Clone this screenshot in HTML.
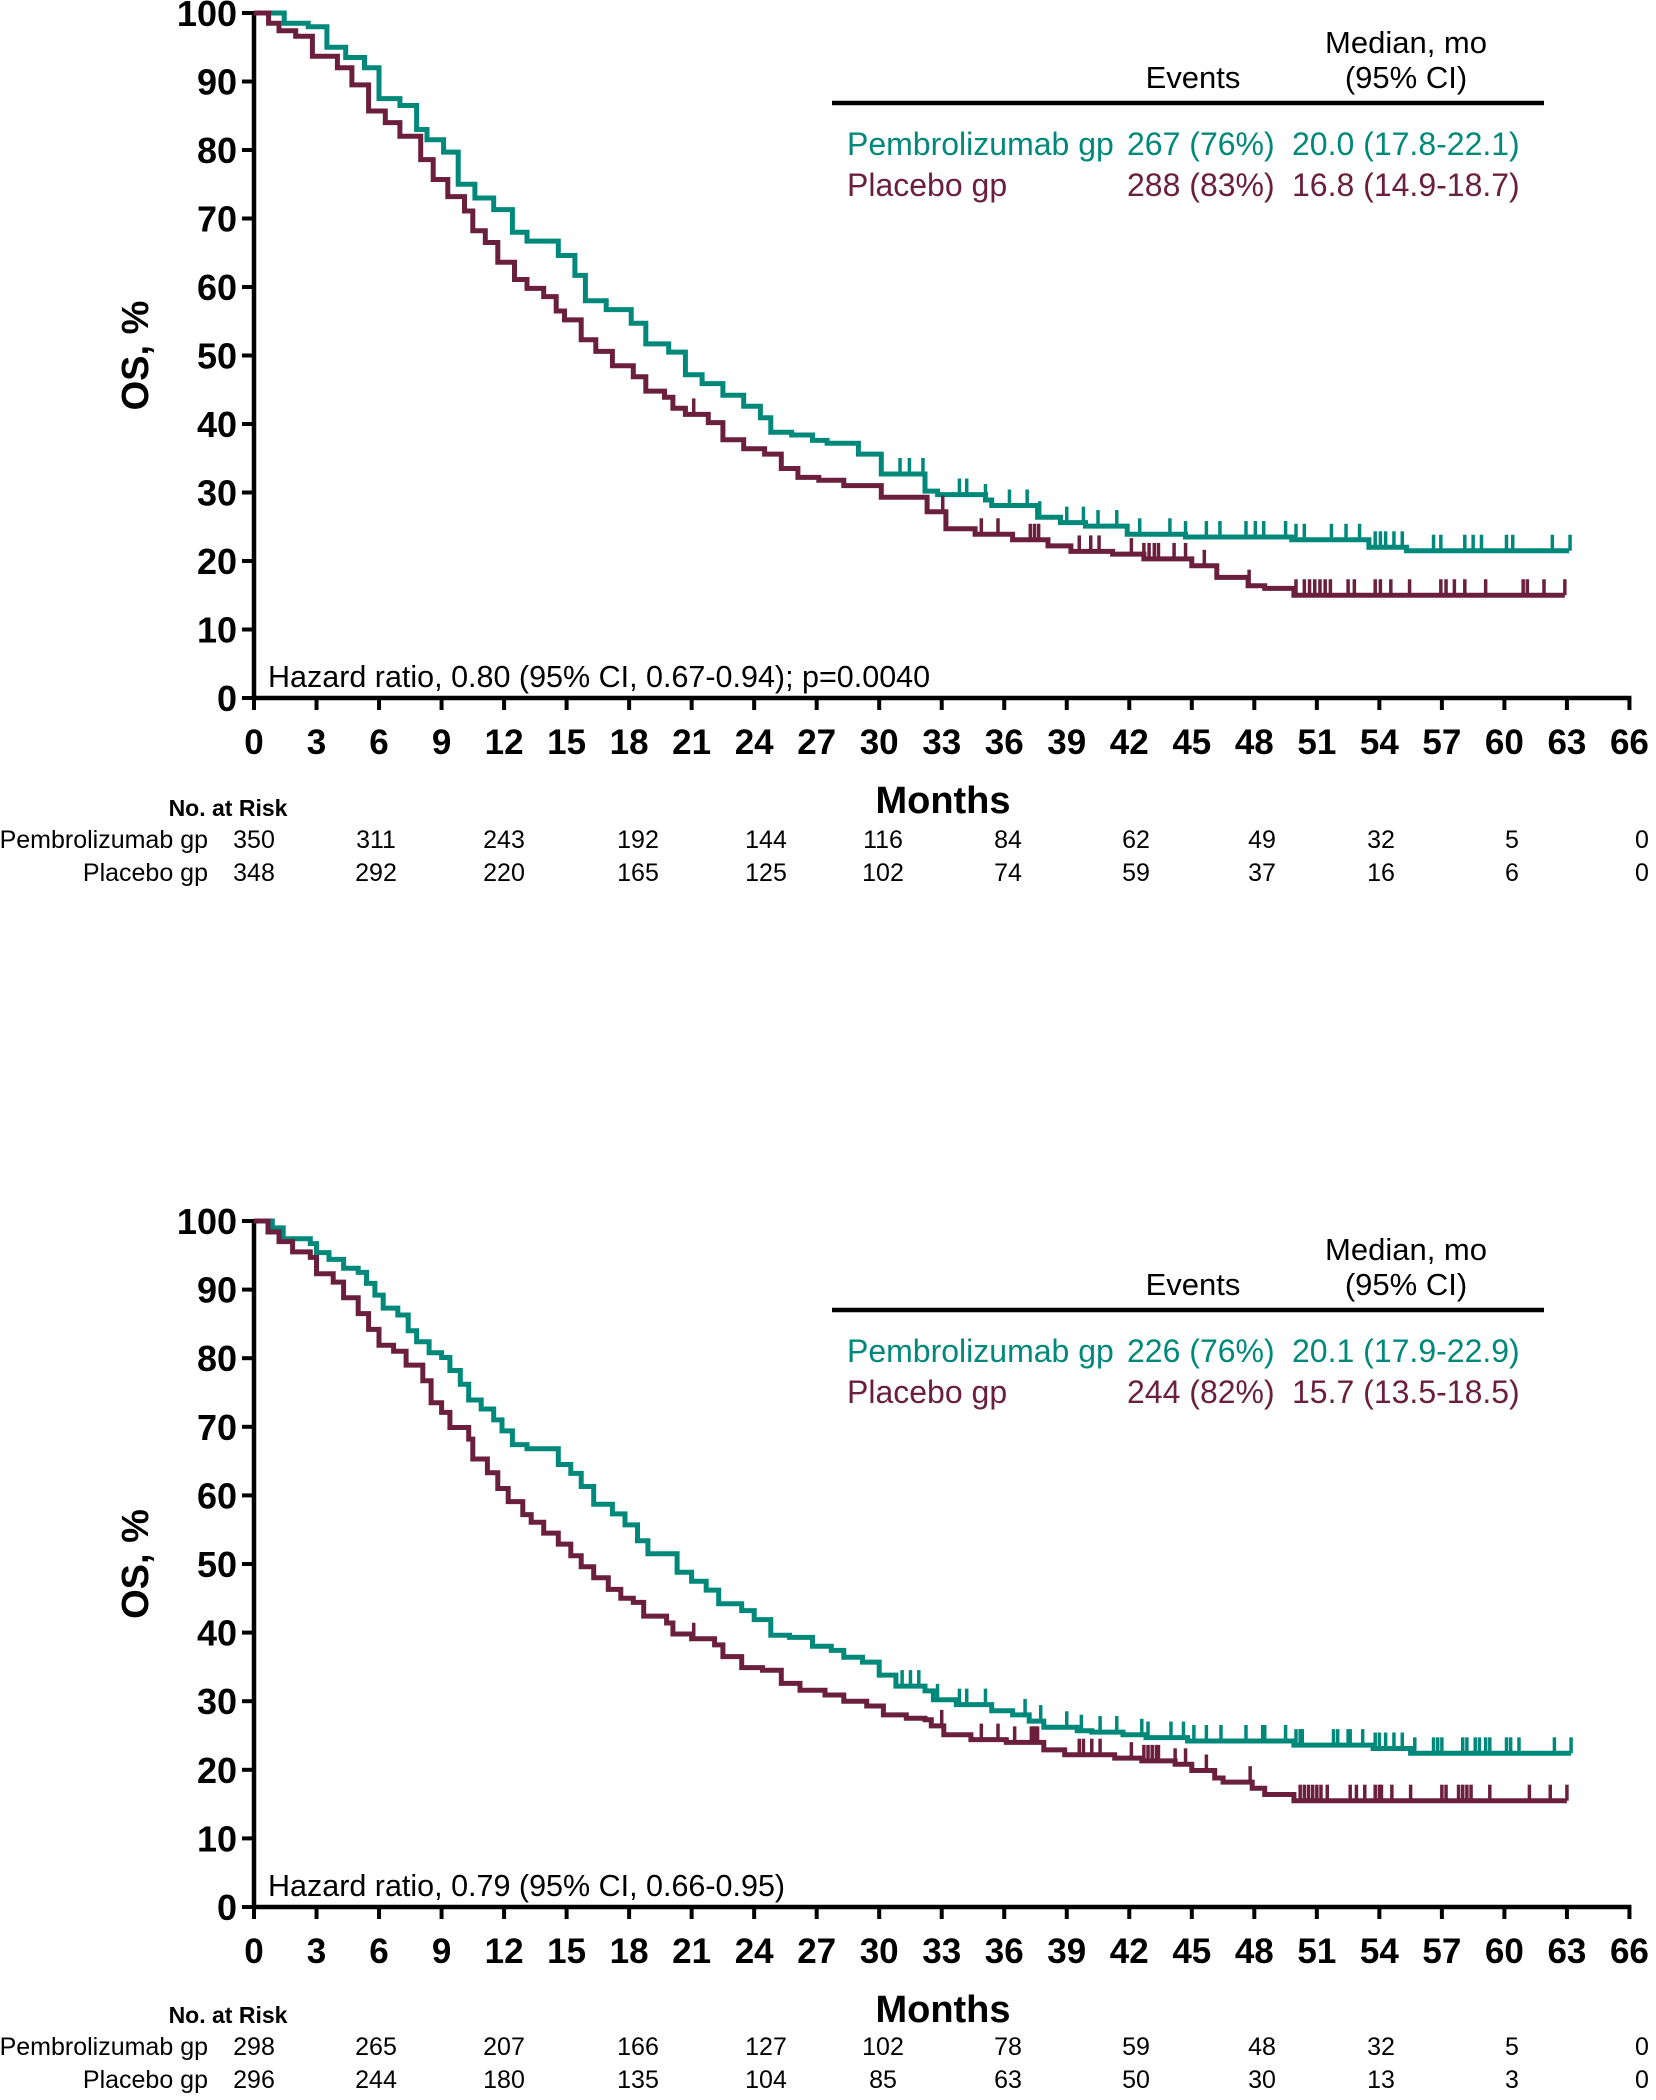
<!DOCTYPE html>
<html><head><meta charset="utf-8">
<style>
html,body{margin:0;padding:0;background:#fff;}
svg{display:block;font-family:"Liberation Sans",Arial,sans-serif;}
</style></head>
<body>
<svg id="chart" width="1656" height="2100" viewBox="0 0 1656 2100" xmlns="http://www.w3.org/2000/svg"></svg>
<script>
// ===== Data (top panel) =====
const xTickLabels = [0,3,6,9,12,15,18,21,24,27,30,33,36,39,42,45,48,51,54,57,60,63,66];
const yTickLabels = [0,10,20,30,40,50,60,70,80,90,100];
const riskTimes = [0,6,12,18,24,30,36,42,48,54,60,66];

const topPembroTimes = [0,1.45,2.6,3.5,4.4,5.3,6,7,7.8,8.3,9.1,9.8,10.6,11.5,12.4,13.1,14.6,15.4,15.9,16.9,18.1,18.8,19.9,20.7,21.5,22.5,23.5,24.3,24.8,25.8,26.8,27.5,29,30.1,32.2,32.8,35.1,35.4,37.6,38.7,39.9,41.9,44.7,49.8,53.5,55.3];
const topPembroSurv = [100,98.5,98,95,93.5,92,87.5,86.5,83,81.5,79.7,75,73,71.3,68,66.7,64.6,61.7,58,56.7,54.7,51.7,50.5,47.2,45.9,44.2,42.6,40.9,38.8,38.4,37.6,37.2,35.6,32.7,30.2,29.7,28.9,28.1,26.4,25.6,25.1,23.9,23.5,23.1,22.0,21.5];
const topPembroEnd = 63.1;
const topPembroCensor = [31.0,31.45,32.1,33.85,34.2,35.1,36.25,37.1,37.7,39.0,39.8,40.5,41.4,42.5,43.95,44.7,45.7,46.35,47.6,48.05,48.45,49.5,50.0,50.4,51.7,52.4,53.05,53.8,54.05,54.3,54.7,55.1,56.6,56.95,58.1,58.5,58.9,60.1,60.4,62.3,63.15];

const topPlaceboTimes = [0,0.7,1.2,2,2.8,4,4.7,5.5,6.3,7,8,8.6,9.3,10.1,10.5,11.1,11.7,12.5,13.1,13.9,14.5,14.9,15.7,16.4,17.2,18.2,18.8,19.7,20.1,20.7,21.8,22.5,23.5,24.5,25.3,26.1,27.1,28.3,30.1,32.3,33.2,34.6,36.4,38.1,39.2,41.2,42.7,45,46.2,47.7,48.5,49.9];
const topPlaceboSurv = [100,98.5,97.4,96.6,93.7,92,89.5,85.7,84,82,78.6,75.7,73.2,71.1,68.2,66.5,63.6,61.1,59.8,58.6,56.5,55.2,52.3,50.6,48.5,46.9,44.8,43.9,42.3,41.4,40.2,37.7,36.4,35.6,33.5,32.2,31.8,31.0,29.3,27.2,24.7,23.9,23.1,22.2,21.4,21.0,20.3,19.3,17.6,16.4,16.0,15.0];
const topPlaceboEnd = 62.9;
const topPlaceboCensor = [21.1,33.05,34.9,35.7,37.25,37.45,37.65,39.6,40.15,40.55,42.1,42.7,42.95,43.2,43.4,44.15,44.7,45.6,47.75,50.0,50.4,50.65,50.9,51.15,51.4,51.65,52.5,52.8,53.8,54.05,54.55,55.45,56.95,57.2,57.6,58.1,59.1,60.9,61.1,61.9,62.9];

const topRiskPembro = [350,311,243,192,144,116,84,62,49,32,5,0];
const topRiskPlacebo = [348,292,220,165,125,102,74,59,37,16,6,0];

// ===== Data (bottom panel) =====
const botPembroTimes = [0,0.88,1.4,2.7,3,3.6,4.3,5,5.4,5.8,6.2,6.9,7.4,7.8,8.4,9,9.4,9.9,10.3,10.9,11.5,11.9,12.4,13.1,14.6,15.2,15.7,16.3,17.2,17.8,18.4,18.9,20.3,21,21.7,22.3,23.4,24,24.8,25.7,26.8,27.7,28.3,29.2,30,30.8,32.2,32.6,33.7,35.4,36.4,37.2,37.9,39.5,40.2,41.7,42.8,44.8,49.9,53.7,55.5];
const botPembroSurv = [100,99,97.4,96.7,95.4,94.4,93.1,92.5,90.9,89.2,87.3,86.3,84,82.4,80.8,80.1,78.2,76.2,73.9,72.6,71,69.4,67.4,66.8,64.5,63.2,61.3,58.7,57.3,55.7,53.4,51.5,48.8,47.5,46.2,44.2,43.2,41.9,39.6,39.3,38,37.4,36.4,35.7,33.8,32.2,31.5,30.2,29.5,28.6,28.0,27.1,26.2,25.7,25.5,25.1,24.7,24.2,23.6,23.1,22.4];
const botPembroEnd = 63.2;
const botPembroCensor = [31.1,31.5,31.9,32.8,33.85,34.2,35.1,37.0,37.75,39.0,39.7,40.6,41.4,42.6,42.9,44.0,44.6,45.1,45.7,46.4,47.6,48.4,48.5,49.5,50.0,50.2,50.3,51.8,52.0,52.5,52.6,53.2,53.8,54.0,54.3,54.7,55.1,55.7,56.6,56.8,57.0,58.0,58.2,58.6,58.8,59.1,59.3,60.1,60.3,60.7,62.4,63.2];

const botPlaceboTimes = [0,0.67,1.2,1.85,2.7,3.0,3.8,4.3,5,5.5,6.0,6.7,7.3,8.1,8.5,9.0,9.4,10.3,10.5,11.2,11.7,12.2,12.9,13.3,13.9,14.6,15.2,15.7,16.3,17,17.6,18.2,18.7,19.8,20.1,21,22.1,22.5,23.4,24.4,25.3,26.2,27.4,28.3,29.4,30.2,31.3,32.2,32.5,33.1,34.4,36.1,37.9,38.9,41.3,42.6,44.2,45.0,46.1,46.5,47.9,48.5,49.9];
const botPlaceboSurv = [100,98.4,97,95.5,94.7,92.3,91.1,88.8,86.5,84.2,81.9,81,79,76.7,73.5,72.1,69.9,68.2,65.3,63.3,61,59.1,57.2,56.1,54.5,52.9,51.2,49.6,48,46.3,45,44.4,42.4,41.4,39.8,39.1,38.2,36.5,34.9,34.5,32.6,31.6,30.9,30,29.3,28,27.5,27.3,26.4,25.1,24.4,24.0,22.9,22.2,21.7,21.3,20.8,19.9,18.8,18.2,17.3,16.4,15.5];
const botPlaceboEnd = 63.0;
const botPlaceboCensor = [21.1,33.0,34.9,35.7,36.5,37.3,37.4,37.5,37.6,39.6,39.8,40.2,40.6,42.1,42.7,42.9,43.1,43.3,43.4,44.2,44.7,45.7,47.8,50.2,50.4,50.6,50.8,51.0,51.2,51.5,52.6,52.9,53.3,53.8,54.0,54.1,54.6,55.5,57.0,57.2,57.8,58.0,58.2,58.4,59.3,61.2,62.2,63.0];

const botRiskPembro = [298,265,207,166,127,102,78,59,48,32,5,0];
const botRiskPlacebo = [296,244,180,135,104,85,63,50,30,13,3,0];

// layout: column centres of the risk table (pixels)
const riskColX = [254,376,504,638,766,883,1008,1136,1262,1381,1512,1642];

const TEAL = '#00897a';
const MAROON = '#6a1f3c';
const NS = 'http://www.w3.org/2000/svg';
const svg = document.getElementById('chart');

function mk(tag, attrs, parent, text) {
  const e = document.createElementNS(NS, tag);
  for (const k in attrs) e.setAttribute(k, attrs[k]);
  if (text !== undefined) e.textContent = text;
  (parent || svg).appendChild(e);
  return e;
}

function survAt(times, surv, t) {
  let s = surv[0];
  for (let i = 0; i < times.length; i++) { if (times[i] <= t) s = surv[i]; else break; }
  return s;
}

function drawPanel(p) {
  const g = mk('g', {});
  
  
  const X0 = 254, PXM = 20.84;
  const Y0 = p.y0, PXP = p.pxp;
  const xs = m => X0 + m * PXM;
  const ys = v => Y0 - v * PXP;

  const ax = mk('line', {x1: X0, y1: ys(100) - 2, x2: X0, y2: Y0 + 2, stroke: '#000', 'stroke-width': 4.5}, g);
  
  
  const bx = mk('line', {x1: X0 - 2, y1: Y0, x2: xs(66) + 2, y2: Y0, stroke: '#000', 'stroke-width': 4.5}, g);
  
  

  yTickLabels.forEach(v => {
    mk('line', {x1: X0 - 12, y1: ys(v), x2: X0, y2: ys(v), stroke: '#000', 'stroke-width': 4}, g);
    const t = mk('text', {x: X0 - 17, y: ys(v) + 13, 'text-anchor': 'end', 'font-size': 36, 'font-weight': 'bold'}, g, String(v));
    
    
  });
  xTickLabels.forEach(v => {
    mk('line', {x1: xs(v), y1: Y0, x2: xs(v), y2: Y0 + 12, stroke: '#000', 'stroke-width': 4}, g);
    const t = mk('text', {x: xs(v), y: Y0 + 56, 'text-anchor': 'middle', 'font-size': 35, 'font-weight': 'bold'}, g, String(v));
    
    
  });
  const xt = mk('text', {x: 943, y: Y0 + 115, 'text-anchor': 'middle', 'font-size': 38, 'font-weight': 'bold'}, g, 'Months');
  
  
  const yt = mk('text', {x: 0, y: 0, 'text-anchor': 'middle', 'font-size': 38, 'font-weight': 'bold', transform: 'translate(148,' + (ys(50)) + ') rotate(-90)'}, g, 'OS, %');
  
  

  p.series.forEach(s => {
    let d = 'M' + xs(s.times[0]) + ',' + ys(s.surv[0]);
    for (let i = 1; i < s.times.length; i++) {
      d += ' H' + xs(s.times[i]).toFixed(1) + ' V' + ys(s.surv[i]).toFixed(1);
    }
    d += ' H' + xs(s.end).toFixed(1);
    const path = mk('path', {d: d, fill: 'none', stroke: s.color, 'stroke-width': 5, 'stroke-linejoin': 'miter'}, g);
    
    
    s.censor.forEach(c => {
      const yy = ys(survAt(s.times, s.surv, c));
      const l = mk('line', {x1: xs(c), y1: yy, x2: xs(c), y2: yy - 16, stroke: s.color, 'stroke-width': 3.5}, g);
      
      
    });
  });

  const hz = mk('text', {x: 268, y: Y0 - 11, 'font-size': 30.5}, g, p.hazard);
  
  

  const L = p.legendTop;
  const lg = mk('g', {}, g);
  
  
  mk('text', {x: 1406, y: L + 40, 'text-anchor': 'middle', 'font-size': 31}, lg, 'Median, mo');
  mk('text', {x: 1406, y: L + 75, 'text-anchor': 'middle', 'font-size': 31}, lg, '(95% CI)');
  mk('text', {x: 1193, y: L + 75, 'text-anchor': 'middle', 'font-size': 31}, lg, 'Events');
  mk('line', {x1: 832, y1: L + 90, x2: 1544, y2: L + 90, stroke: '#000', 'stroke-width': 4.5}, lg);
  p.legendRows.forEach((r, i) => {
    const yy = L + 142 + i * 41;
    const e1 = mk('text', {x: 847, y: yy, 'font-size': 32, fill: r.color}, lg, r.label);
    
    
    mk('text', {x: 1127, y: yy, 'font-size': 32, fill: r.color}, lg, r.events);
    mk('text', {x: 1292, y: yy, 'font-size': 32, fill: r.color}, lg, r.median);
  });

  const R = p.riskTop;
  const rt = mk('g', {}, g);
  
  
  mk('text', {x: 228, y: R, 'text-anchor': 'middle', 'font-size': 23, 'font-weight': 'bold'}, rt, 'No. at Risk');
  mk('text', {x: 208, y: R + 32, 'text-anchor': 'end', 'font-size': 25}, rt, 'Pembrolizumab gp');
  mk('text', {x: 208, y: R + 65, 'text-anchor': 'end', 'font-size': 25}, rt, 'Placebo gp');
  riskTimes.forEach((t, i) => {
    const cx = riskColX[i];
    mk('text', {x: cx, y: R + 32, 'text-anchor': 'middle', 'font-size': 25}, rt, String(p.riskA[i]));
    mk('text', {x: cx, y: R + 65, 'text-anchor': 'middle', 'font-size': 25}, rt, String(p.riskB[i]));
  });
}

drawPanel({
  name: 'top-panel', y0: 698, pxp: 6.85, legendTop: 13, riskTop: 816,
  hazard: 'Hazard ratio, 0.80 (95% CI, 0.67-0.94); p=0.0040',
  series: [
    {key: 'pembrolizumab', color: TEAL, times: topPembroTimes, surv: topPembroSurv, end: topPembroEnd, censor: topPembroCensor},
    {key: 'placebo', color: MAROON, times: topPlaceboTimes, surv: topPlaceboSurv, end: topPlaceboEnd, censor: topPlaceboCensor}
  ],
  legendRows: [
    {label: 'Pembrolizumab gp', events: '267 (76%)', median: '20.0 (17.8-22.1)', color: TEAL},
    {label: 'Placebo gp', events: '288 (83%)', median: '16.8 (14.9-18.7)', color: MAROON}
  ],
  riskA: topRiskPembro, riskB: topRiskPlacebo
});

drawPanel({
  name: 'bottom-panel', y0: 1907, pxp: 6.86, legendTop: 1220, riskTop: 2023,
  hazard: 'Hazard ratio, 0.79 (95% CI, 0.66-0.95)',
  series: [
    {key: 'pembrolizumab', color: TEAL, times: botPembroTimes, surv: botPembroSurv, end: botPembroEnd, censor: botPembroCensor},
    {key: 'placebo', color: MAROON, times: botPlaceboTimes, surv: botPlaceboSurv, end: botPlaceboEnd, censor: botPlaceboCensor}
  ],
  legendRows: [
    {label: 'Pembrolizumab gp', events: '226 (76%)', median: '20.1 (17.9-22.9)', color: TEAL},
    {label: 'Placebo gp', events: '244 (82%)', median: '15.7 (13.5-18.5)', color: MAROON}
  ],
  riskA: botRiskPembro, riskB: botRiskPlacebo
});
</script>
</body></html>
